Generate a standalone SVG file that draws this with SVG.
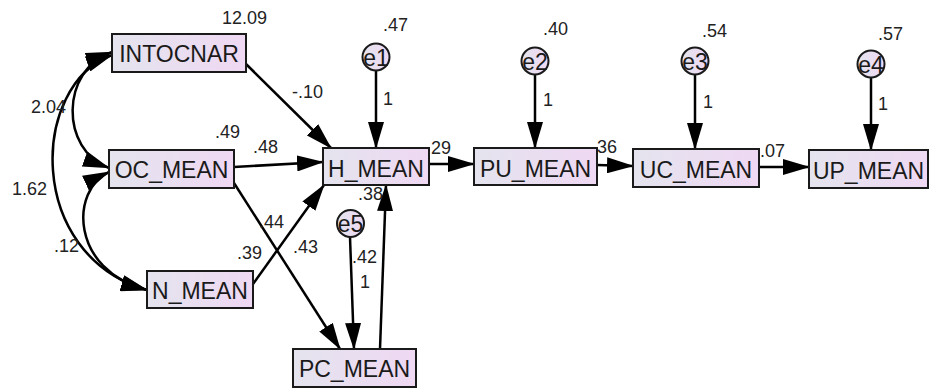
<svg xmlns="http://www.w3.org/2000/svg" width="930" height="390" viewBox="0 0 930 390">
  <defs>
    <linearGradient id="fillObs" x1="0" y1="0" x2="1" y2="0">
      <stop offset="0" stop-color="#e4e4ee"/>
      <stop offset="1" stop-color="#efd8f3"/>
    </linearGradient>
    <marker id="head" viewBox="0 0 27 16" refX="26" refY="8" markerWidth="27" markerHeight="16" markerUnits="userSpaceOnUse" orient="auto-start-reverse">
      <path d="M0,0 L27,8 L0,16 z" fill="#000"/>
    </marker>
    <style>
      .box { fill: url(#fillObs); stroke: #1a1a1a; stroke-width: 2; }
      .err { fill: url(#fillObs); stroke: #1a1a1a; stroke-width: 2; }
      .name { font-family: "Liberation Sans", Arial, sans-serif; font-size: 23px; fill: #1a1a1a; text-anchor: middle; }
      .num { font-family: "Liberation Sans", Arial, sans-serif; font-size: 18px; fill: #222; }
      .path { fill: none; stroke: #000; stroke-width: 2.5; marker-end: url(#head); }
      .cov { fill: none; stroke: #000; stroke-width: 2.5; marker-start: url(#head); marker-end: url(#head); }
    </style>
  </defs>
  <rect width="930" height="390" fill="#fff"/>

  <!-- connectors: regressions, error terms and covariances -->
  <g id="connectors">
    <path class="cov" d="M112,52 C60,70 60,150 109,168"/>
    <path class="cov" d="M112,55 C30,85 25,255 147,290"/>
    <path class="cov" d="M109,172 C70,190 70,270 147,290"/>

    <path class="path" d="M246,64 L331,148"/>
    <path class="path" d="M234,167 L323,162"/>
    <path class="path" d="M234,183 L340,349"/>
    <path class="path" d="M253,284 L324,185"/>
    <path class="path" d="M380,349 L386,185"/>
    <path class="path" d="M350,237 L354,349"/>

    <path class="path" d="M376,70 L376,148"/>
    <path class="path" d="M535,75 L535,148"/>
    <path class="path" d="M695,75 L695,149"/>
    <path class="path" d="M871,78 L871,150"/>

    <path class="path" d="M429,164 L474,164"/>
    <path class="path" d="M597,165 L633,166"/>
    <path class="path" d="M759,167 L809,167"/>
  </g>

  <!-- observed variables -->
  <g id="INTOCNAR">
    <rect class="box" x="112" y="34" width="134" height="38"/>
    <text class="name" x="179" y="62">INTOCNAR</text>
  </g>
  <g id="OC_MEAN">
    <rect class="box" x="109" y="150" width="125" height="38"/>
    <text class="name" x="171.5" y="178">OC_MEAN</text>
  </g>
  <g id="N_MEAN">
    <rect class="box" x="147" y="271" width="106" height="37"/>
    <text class="name" x="200" y="299">N_MEAN</text>
  </g>
  <g id="PC_MEAN">
    <rect class="box" x="293" y="349" width="123" height="38"/>
    <text class="name" x="354.5" y="377">PC_MEAN</text>
  </g>
  <g id="H_MEAN">
    <rect class="box" x="323" y="148" width="106" height="37"/>
    <text class="name" x="376" y="176.5">H_MEAN</text>
  </g>
  <g id="PU_MEAN">
    <rect class="box" x="474" y="148" width="123" height="37"/>
    <text class="name" x="535.5" y="176.5">PU_MEAN</text>
  </g>
  <g id="UC_MEAN">
    <rect class="box" x="633" y="149" width="126" height="38"/>
    <text class="name" x="696" y="177.5">UC_MEAN</text>
  </g>
  <g id="UP_MEAN">
    <rect class="box" x="809" y="150" width="119" height="38"/>
    <text class="name" x="868.5" y="178.5">UP_MEAN</text>
  </g>

  <!-- error terms -->
  <g id="e1">
    <circle class="err" cx="376" cy="57" r="13.5"/>
    <text class="name" x="376" y="65.5">e1</text>
  </g>
  <g id="e2">
    <circle class="err" cx="535" cy="61" r="13.5"/>
    <text class="name" x="535" y="69.5">e2</text>
  </g>
  <g id="e3">
    <circle class="err" cx="695" cy="61" r="13.5"/>
    <text class="name" x="695" y="69.5">e3</text>
  </g>
  <g id="e4">
    <circle class="err" cx="871" cy="64" r="13.5"/>
    <text class="name" x="871" y="72.5">e4</text>
  </g>
  <g id="e5">
    <circle class="err" cx="350.5" cy="223.5" r="13.5"/>
    <text class="name" x="350.5" y="232">e5</text>
  </g>

  <!-- estimates -->
  <g id="estimates">
    <text class="num" x="222" y="23.5">12.09</text>
    <text class="num" x="292" y="98">-.10</text>
    <text class="num" x="31" y="113">2.04</text>
    <text class="num" x="215" y="138">.49</text>
    <text class="num" x="253" y="153">.48</text>
    <text class="num" x="12" y="195">1.62</text>
    <text class="num" x="54" y="252">.12</text>
    <text class="num" x="259" y="228">.44</text>
    <text class="num" x="237" y="259">.39</text>
    <text class="num" x="293" y="253">.43</text>
    <text class="num" x="358" y="200">.38</text>
    <text class="num" x="352" y="263">.42</text>
    <text class="num" x="360" y="288">1</text>
    <text class="num" x="383" y="31">.47</text>
    <text class="num" x="383" y="105">1</text>
    <text class="num" x="431" y="154">29</text>
    <text class="num" x="543" y="35">.40</text>
    <text class="num" x="543" y="106">1</text>
    <text class="num" x="597" y="153">36</text>
    <text class="num" x="702" y="37">.54</text>
    <text class="num" x="703" y="108">1</text>
    <text class="num" x="760" y="157">.07</text>
    <text class="num" x="878" y="40">.57</text>
    <text class="num" x="878" y="110">1</text>
  </g>
</svg>
